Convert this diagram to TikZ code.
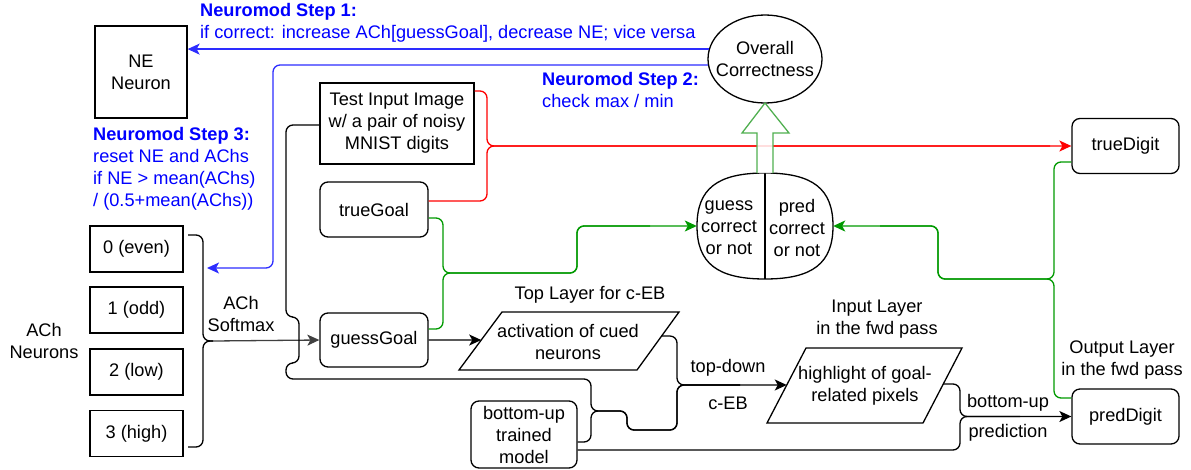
\documentclass[tikz,border=0pt]{standalone}
\usepackage{fontspec}
\setmainfont{Liberation Sans}
\usetikzlibrary{arrows.meta,calc,shapes.geometric}
\definecolor{blueT}{RGB}{0,0,255}
\definecolor{blueL}{RGB}{45,45,255}
\definecolor{redL}{RGB}{255,0,0}
\definecolor{greenL}{RGB}{0,153,0}
\definecolor{greenA}{RGB}{80,175,80}
\definecolor{grayA}{RGB}{64,64,64}
\begin{document}
\begin{tikzpicture}[x=1pt,y=-1pt,
  font=\fontsize{18.2}{22}\selectfont,
  tip/.style={-{Stealth[length=12pt,width=11pt,inset=3pt]}},
  ln/.style={line width=1.3pt,rounded corners=7pt},
  box/.style={draw,line width=1.3pt,align=center,inner sep=0pt},
  rbox/.style={box,rounded corners=8pt},
  lbl/.style={align=center,inner sep=0pt},
  btxt/.style={align=left,inner sep=0pt,anchor=west,text=blueT}]
\useasboundingbox (0,0) rectangle (1191,469);

% ---------- nodes ----------
\node[box,minimum width=92pt,minimum height=92pt] (ne) at (141,72) {NE\\Neuron};
\node[box,minimum width=154pt,minimum height=81pt] (test) at (397,123.5) {Test Input Image\\w/ a pair of noisy\\MNIST digits};
\node[rbox,minimum width=108pt,minimum height=55pt] (tgoal) at (374,209.5) {trueGoal};
\node[rbox,minimum width=108pt,minimum height=54pt] (ggoal) at (374,340) {guessGoal};
\node[rbox,minimum width=107pt,minimum height=55pt] (tdigit) at (1125.5,146) {trueDigit};
\node[rbox,minimum width=107pt,minimum height=55pt] (pdigit) at (1125.5,416.5) {predDigit};
\node[rbox,minimum width=106pt,minimum height=67pt] (model) at (524,434.5) {bottom-up\\trained\\model};
\node[box,minimum width=93pt,minimum height=46pt] (ach0) at (136.5,249) {0 (even)};
\node[box,minimum width=93pt,minimum height=46pt] (ach1) at (136.5,310) {1 (odd)};
\node[box,minimum width=93pt,minimum height=46pt] (ach2) at (136.5,372) {2 (low)};
\node[box,minimum width=93pt,minimum height=46pt] (ach3) at (136.5,433.5) {3 (high)};
\node[ellipse,draw,line width=1.3pt,minimum width=114pt,minimum height=88pt,inner sep=0pt] (overall) at (765,59) {};
\node[lbl] at (overall) {Overall\\Correctness};

% split "ellipse"
\node[minimum width=136pt,minimum height=106pt,inner sep=0pt] (split) at (765,226) {};
\draw[line width=1.3pt] (833,226) .. controls (833,189) and (813,173) .. (765,173)
  .. controls (717,173) and (697,189) .. (697,226)
  .. controls (697,263) and (717,279) .. (765,279)
  .. controls (813,279) and (833,263) .. (833,226) -- cycle;
\draw[line width=1.3pt] (split.north) -- (split.south);
\node[lbl] at (729,228) {guess\\correct\\or not};
\node[lbl] at (797,228) {pred\\correct\\or not};

% parallelograms
\coordinate (a1) at (502,312); \coordinate (a2) at (679,312);
\coordinate (a3) at (637,370); \coordinate (a4) at (459,370);
\draw[line width=1.3pt] (a1) -- (a2) -- (a3) -- (a4) -- cycle;
\node[lbl] (act) at (568,342) {activation of cued\\neurons};
\coordinate (h1) at (806,348); \coordinate (h2) at (962,348);
\coordinate (h3) at (923,423); \coordinate (h4) at (767,423);
\draw[line width=1.3pt] (h1) -- (h2) -- (h3) -- (h4) -- cycle;
\node[lbl] (hl) at (865,386) {highlight of goal-\\related pixels};

% labels
\node[lbl] at (44,341) {ACh\\Neurons};
\node[lbl] at (241,314) {ACh\\Softmax};
\node[lbl] at (590,295) {Top Layer for c-EB};
\node[lbl] at (877,319) {Input Layer\\in the fwd pass};
\node[lbl] at (1122,360) {Output Layer\\in the fwd pass};
\node[lbl] at (728,368) {top-down};
\node[lbl] at (728,403) {c-EB};
\node[lbl] at (1008,403) {bottom-up};
\node[lbl] at (1008,433) {prediction};
\node[btxt] at (200,23) {\textbf{Neuromod Step 1:}\\if correct: increase ACh[guessGoal], decrease NE; vice versa};
\node[btxt] at (542,90) {\textbf{Neuromod Step 2:}\\check max / min};
\node[btxt] at (93,169) {\textbf{Neuromod Step 3:}\\reset NE and AChs\\if NE > mean(AChs)\\/ (0.5+mean(AChs))};

% ---------- connectors ----------
% blue
\draw[ln,blueL,tip] (overall.170) -- (overall.170 -| ne.east);
\coordinate (achin) at (207,268);
\draw[ln,blueL,tip] (overall.186) -| (273,268) -- (achin);

% red
\coordinate (rj) at (487,146);
\draw[ln,redL,tip] ([yshift=32.5pt]test.east) -| (rj) -- (tdigit.west);
\draw[ln,redL] ([yshift=8.5pt]tgoal.east) -| (rj) -- (1050,146);

% green left
\coordinate (gj) at (443,273);
\coordinate (gk) at (577,226);
\draw[ln,greenL,tip] ([yshift=-8.5pt]tgoal.east) -| (gj) -- (gk |- gj) -- (gk) -- (split.west);
\draw[ln,greenL] ([yshift=11pt]ggoal.east) -| (gj) -- (gk |- gj) -- (gk) -- (650,226);
% green right
\coordinate (gr) at (1054,279);
\coordinate (gq) at (938,226);
\draw[ln,greenL,tip] ([yshift=-16pt]tdigit.west) -| (gr) -- (gq |- gr) -- (gq) -- (split.east);
\draw[ln,greenL] ([yshift=18.5pt]pdigit.west) -| (gr) -- (gq |- gr) -- (gq) -- (880,226);

% big hollow arrow
\draw[line width=1.3pt,greenA,fill=white,fill opacity=0.85,line join=miter]
  (757,173) -- (757,133) -- (742,133) -- (765,103) -- (789,133) -- (773,133) -- (773,173);

% ACh brace and softmax arrow
\coordinate (b0) at (188,235);
\coordinate (b3) at (188,447);
\coordinate (aj) at (203,341);
\coordinate (at) at (213,341);
\draw[ln] (b0) -| (aj) -- (at);
\draw[ln] (b3) -| (aj) -- (at);
\draw[line width=1.3pt,grayA,tip] (at) -- (ggoal.west);

% guessGoal -> activation
\draw[line width=1.3pt,tip] (ggoal.east) -- ($(a1)!0.483!(a4)$);

% test image + model + activation -> highlight
\coordinate (bj) at (591,411);
\coordinate (bk) at (677,385);
\coordinate (hin) at ($(h1)!0.4933!(h4)$);
\draw[ln,tip] ([yshift=-1.5pt]test.west) -- (286,125) -- (286,317) -- (299,317) -- (299,363) -- (286,363) -- (286,379) -| (bj) -- (627,411) -- (627,430) -| (bk) -- (hin);
\draw[ln] ([yshift=-7.5pt]model.east) -| (bj) -- (627,411) -- (627,430) -| (bk) -- (740,385);
\draw[ln] ($(a2)!0.414!(a3)$) -| (bk) -- (740,385);

% model + highlight -> predDigit
\coordinate (pj) at (960,416.5);
\draw[ln,tip] ([yshift=-15.5pt]model.east) -| (pj) -- (pdigit.west);
\draw[ln] ($(h2)!0.48!(h3)$) -| (pj) -- (1020,416.5);
\end{tikzpicture}
\end{document}
